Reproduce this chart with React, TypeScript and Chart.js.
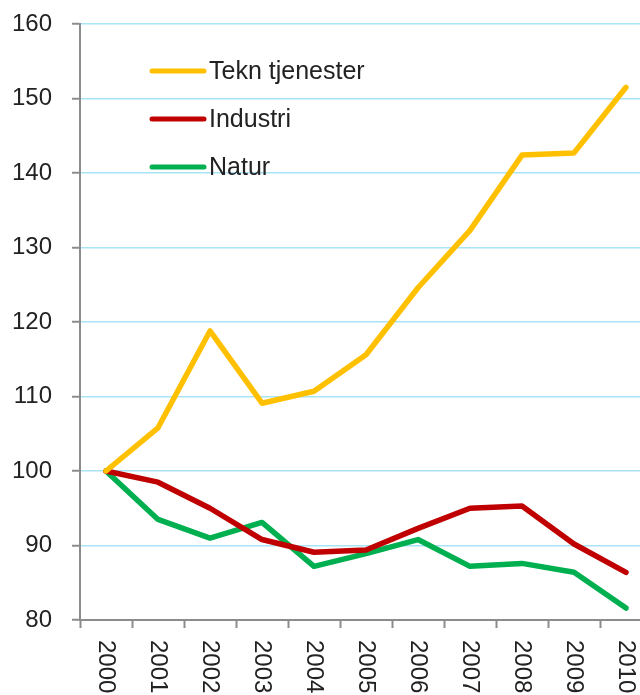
import React, { useEffect, useRef } from "react";
import { Chart, registerables } from "chart.js";

Chart.register(...registerables);

const years = ["2000", "2001", "2002", "2003", "2004", "2005", "2006", "2007", "2008", "2009", "2010"];
const teknTjenester = [100, 105.8, 118.8, 109.1, 110.7, 115.6, 124.6, 132.3, 142.4, 142.7, 151.5];
const industri = [100, 98.5, 95.0, 90.8, 89.1, 89.4, 92.3, 95.0, 95.3, 90.2, 86.4];
const natur = [100, 93.5, 91.0, 93.1, 87.2, 88.9, 90.8, 87.2, 87.6, 86.4, 81.6];
const yMin = 80;
const yMax = 160;
const yStep = 10;

const FONT = '"Liberation Sans", Arial, sans-serif';

const legendPlugin = {
  id: "insideLegend",
  afterDraw(chart: any) {
    const ctx = chart.ctx;
    ctx.save();
    chart.data.datasets.forEach((ds: any, i: number) => {
      const y = 71 + i * 48;
      ctx.strokeStyle = ds.borderColor;
      ctx.lineWidth = 5;
      ctx.lineCap = "round";
      ctx.beginPath();
      ctx.moveTo(152, y);
      ctx.lineTo(204, y);
      ctx.stroke();
      ctx.fillStyle = "#222";
      ctx.font = `25px ${FONT}`;
      ctx.textAlign = "left";
      ctx.textBaseline = "middle";
      ctx.fillText(ds.label, 209, y + 1);
    });
    ctx.restore();
  },
};

const xLabelPlugin = {
  id: "rotatedXLabels",
  afterDraw(chart: any) {
    const ctx = chart.ctx;
    const xs = chart.scales.x;
    ctx.save();
    ctx.fillStyle = "#222";
    ctx.font = `24px ${FONT}`;
    ctx.textAlign = "left";
    ctx.textBaseline = "middle";
    chart.data.labels.forEach((lab: string, i: number) => {
      const x = xs.getPixelForTick(i);
      ctx.save();
      ctx.translate(x, xs.top + 20);
      ctx.rotate(Math.PI / 2);
      ctx.fillText(lab, 0, 0);
      ctx.restore();
    });
    ctx.restore();
  },
};

export default function App() {
  const ref = useRef<HTMLCanvasElement | null>(null);
  useEffect(() => {
    if (!ref.current) return;
    const chart = new Chart(ref.current, {
      type: "line",
      data: {
        labels: years,
        datasets: [
          { label: "Tekn tjenester", data: teknTjenester, borderColor: "#FFC000", backgroundColor: "#FFC000" },
          { label: "Industri", data: industri, borderColor: "#C00000", backgroundColor: "#C00000" },
          { label: "Natur", data: natur, borderColor: "#00B050", backgroundColor: "#00B050" },
        ],
      },
      options: {
        responsive: false,
        animation: false,
        devicePixelRatio: 1,
        layout: { padding: { top: 24, right: 0, left: 0, bottom: 0 } },
        elements: {
          line: { borderWidth: 5.5, tension: 0, borderJoinStyle: "round", borderCapStyle: "round" },
          point: { radius: 0, hoverRadius: 0 },
        },
        plugins: { legend: { display: false }, tooltip: { enabled: false } },
        scales: {
          x: {
            type: "category",
            offset: true,
            grid: {
              offset: true,
              drawOnChartArea: false,
              drawTicks: true,
              tickLength: 8,
              tickColor: "#8c8c8c",
              tickWidth: 2,
            },
            border: { display: true, color: "#8c8c8c", width: 2 },
            ticks: { display: false },
            afterFit: (s: any) => {
              s.height = 75;
              s.paddingLeft = 0;
              s.paddingRight = 0;
            },
          },
          y: {
            min: yMin,
            max: yMax,
            ticks: {
              stepSize: yStep,
              padding: 20,
              color: "#222",
              font: { family: FONT, size: 24 },
            },
            grid: {
              color: "#a8e3f6",
              lineWidth: 1.5,
              tickLength: 8,
              tickColor: "#8c8c8c",
              tickWidth: 2,
              drawTicks: true,
            },
            border: { display: true, color: "#8c8c8c", width: 2 },
            afterFit: (s: any) => {
              s.width = 80;
              s.paddingTop = 0;
              s.paddingBottom = 0;
            },
          },
        },
      },
      plugins: [legendPlugin, xLabelPlugin],
    });
    return () => chart.destroy();
  }, []);
  return (
    <div style={{ position: "absolute", left: 0, top: 0, width: 640, height: 695, overflow: "hidden", background: "#fff" }}>
      <canvas ref={ref} width={652} height={695} style={{ display: "block" }} />
    </div>
  );
}
